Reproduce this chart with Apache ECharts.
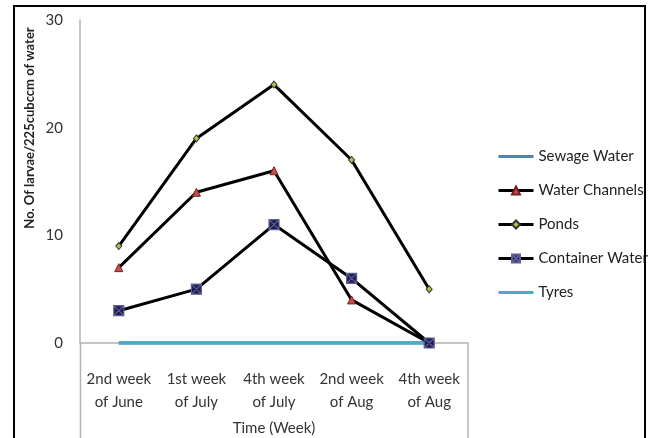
<!DOCTYPE html>
<html>
<head>
<meta charset="utf-8">
<script src="https://cdn.jsdelivr.net/npm/echarts@6/dist/echarts.min.js"></script>
<style>
  html, body { margin: 0; padding: 0; background: #fff; }
  #chart { width: 648px; height: 438px; }
</style>
</head>
<body>
<div id="chart"></div>
<script>
// Sampling weeks
const weeks = ['2nd week\nof June', '1st week\nof July', '4th week\nof July', '2nd week\nof Aug', '4th week\nof Aug'];

// Larvae counts per 225 cubic cm of water, by breeding habitat
const sewageWater = [0, 0, 0, 0, 0];
const waterChannels = [7, 14, 16, 4, 0];
const ponds = [9, 19, 24, 17, 5];
const containerWater = [3, 5, 11, 6, 0];
const tyres = [0, 0, 0, 0, 0];

const yTicks = [0, 10, 20, 30];

const FONT = 'Lato, "Open Sans", sans-serif';
const chart = echarts.init(document.getElementById('chart'), null, { renderer: 'canvas' });

// Square marker with a cross through it
const crossSquare = 'path://M0,0 L10,0 L10,10 L0,10 Z M0,0 L10,10 M10,0 L0,10';

const blackLine = { color: '#000', width: 3 };

chart.setOption({
  animation: false,
  backgroundColor: '#fff',
  grid: { left: 80, right: 180, top: 20, bottom: 95, containLabel: false, outerBoundsMode: 'none' },
  xAxis: {
    type: 'category',
    data: weeks,
    boundaryGap: true,
    name: 'Time (Week)',
    nameLocation: 'middle',
    nameGap: 78,
    nameTextStyle: { fontFamily: FONT, fontSize: 15, color: '#333' },
    axisLine: { lineStyle: { color: '#B3B3B3', width: 1.5 } },
    axisTick: { show: false },
    axisLabel: { fontFamily: FONT, fontSize: 15, color: '#333', lineHeight: 23, margin: 25, interval: 0 }
  },
  yAxis: {
    type: 'value',
    min: yTicks[0],
    max: yTicks[yTicks.length - 1],
    interval: 10,
    axisLine: { show: true, lineStyle: { color: '#B3B3B3', width: 1.5 } },
    axisTick: { show: false },
    splitLine: { show: false },
    axisLabel: { fontFamily: FONT, fontSize: 15, color: '#333', margin: 17 }
  },
  legend: {
    orient: 'vertical',
    left: 492,
    top: 144,
    itemWidth: 35,
    itemHeight: 10,
    itemGap: 19,
    textStyle: { fontFamily: FONT, fontSize: 15, color: '#222' },
    data: [
      { name: 'Sewage Water', itemStyle: { opacity: 0 }, lineStyle: { width: 3 } },
      { name: 'Water Channels', lineStyle: { width: 3 } },
      { name: 'Ponds', lineStyle: { width: 3 } },
      { name: 'Container Water', lineStyle: { width: 3 } },
      { name: 'Tyres', itemStyle: { opacity: 0 }, lineStyle: { width: 3 } }
    ]
  },
  series: [
    {
      name: 'Sewage Water', type: 'line', data: sewageWater, z: 1,
      showSymbol: false, symbol: 'none',
      lineStyle: { color: '#4F81BD', width: 3.5 }, itemStyle: { color: '#4F81BD' }
    },
    {
      name: 'Water Channels', type: 'line', data: waterChannels, z: 3,
      symbol: 'triangle', symbolSize: 8,
      lineStyle: blackLine,
      itemStyle: { color: '#C0504D', borderColor: '#7a2020', borderWidth: 1 }
    },
    {
      name: 'Ponds', type: 'line', data: ponds, z: 3,
      symbol: 'diamond', symbolSize: [6, 7],
      lineStyle: blackLine,
      itemStyle: { color: '#B4C24A', borderColor: '#333', borderWidth: 1 }
    },
    {
      name: 'Container Water', type: 'line', data: containerWater, z: 4,
      symbol: crossSquare, symbolSize: 10,
      lineStyle: blackLine,
      itemStyle: { color: '#1F1F4F', borderColor: '#5E5E96', borderWidth: 1.2 }
    },
    {
      name: 'Tyres', type: 'line', data: tyres, z: 2,
      showSymbol: false, symbol: 'none',
      lineStyle: { color: '#4BACC6', width: 3.5 }, itemStyle: { color: '#4BACC6' }
    }
  ],
  graphic: [
    {
      type: 'rect', silent: true, z: 10,
      shape: { x: 14, y: 6, width: 631, height: 445 },
      style: { fill: 'none', stroke: '#000', lineWidth: 2 }
    },
    {
      type: 'line', silent: true,
      shape: { x1: 80.5, y1: 343, x2: 80.5, y2: 440 },
      style: { stroke: '#B3B3B3', lineWidth: 1.5 }
    },
    {
      type: 'line', silent: true,
      shape: { x1: 468, y1: 343, x2: 468, y2: 440 },
      style: { stroke: '#B3B3B3', lineWidth: 1.5 }
    },
    {
      type: 'text', silent: true,
      x: 30, y: 128, rotation: Math.PI / 2,
      style: {
        text: 'No. Of larvae/225cubccm of water',
        font: 'bold 13px ' + FONT,
        fill: '#222',
        align: 'center',
        verticalAlign: 'middle'
      }
    }
  ]
});
</script>
</body>
</html>
